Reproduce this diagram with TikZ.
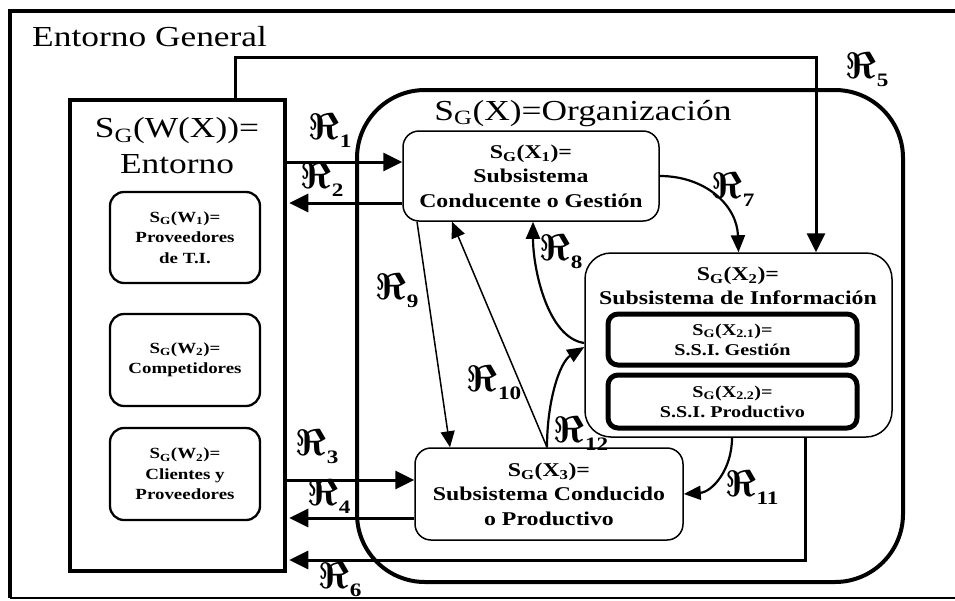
\RequirePackage{fix-cm}
\documentclass[tikz,border=0pt]{standalone}
\usepackage{amsmath}
\usepackage{fontspec}
\setmainfont{Liberation Serif}[FakeStretch=1.22]
\usetikzlibrary{arrows.meta}
\newcommand\bigfnt{\fontsize{29}{36}\selectfont}
\newcommand\boxfnt{\fontsize{19.5}{24.5}\selectfont\bfseries}
\newcommand\wfnt{\fontsize{15.5}{20.5}\selectfont\bfseries}
\newcommand\ssifnt{\fontsize{16.5}{20}\selectfont\bfseries}
\newcommand\lblfnt{\fontsize{37}{37}\selectfont}
\newcommand\sgx{S\textsubscript{G}}
\newcommand\rlab[1]{$\boldsymbol{\Re}$\kern0.5pt\raisebox{-8pt}{\fontsize{19}{19}\selectfont\bfseries #1}}
\begin{document}
\begin{tikzpicture}[x=1pt,y=-1pt,
  entbox/.style={draw, line width=4.5pt, inner sep=0pt},
  orgbox/.style={draw, line width=4pt, rounded corners=68pt, inner sep=0pt},
  wbox/.style={draw, line width=2.3pt, rounded corners=14pt, align=center, font=\wfnt, inner sep=2pt},
  sbox/.style={draw, line width=1.5pt, rounded corners=16pt, align=center, font=\boxfnt, inner sep=2pt},
  ibox/.style={draw, line width=5pt, rounded corners=10pt, align=center, font=\ssifnt, inner sep=1pt},
  arr/.style={-{Triangle[length=19pt,width=18pt]}, line width=3pt},
  carr/.style={-{Triangle[length=17pt,width=14pt]}, line width=2.2pt},
  tarr/.style={-{Triangle[length=16pt,width=14pt]}, line width=1.5pt},
  lbl/.style={font=\lblfnt, inner sep=0pt}
]
\useasboundingbox (0,0) rectangle (955,600);
% outer frame
\draw[line width=4pt] (955,11) -- (10,11) -- (10,598);
\draw[line width=1.5pt] (10,598) -- (955,598);
\node[anchor=base west, font=\bigfnt, inner sep=0pt] (gentitle) at (32,46) {Entorno General};

% Entorno
\node[entbox, minimum width=215pt, minimum height=471pt] (ent) at (177.5,335.5) {};
\node[align=center, font=\bigfnt, inner sep=0pt] (enttitle) at (177,146) {\sgx(W(X))=\\Entorno};
\node[wbox, minimum width=150pt, minimum height=91pt] (wone) at (185,237.5) {\sgx(W\textsubscript{1})=\\Proveedores\\de T.I.};
\node[wbox, minimum width=150pt, minimum height=92pt] (wtwo) at (185,360) {\sgx(W\textsubscript{2})=\\Competidores};
\node[wbox, minimum width=150pt, minimum height=92pt] (wthree) at (185,474) {\sgx(W\textsubscript{2})=\\Clientes y\\Proveedores};

% Organizacion
\node[orgbox, minimum width=546pt, minimum height=492pt] (org) at (630,336) {};
\node[anchor=base, font=\bigfnt, inner sep=0pt] (orgtitle) at (583,120) {\sgx(X)=Organización};

\node[sbox, minimum width=256pt, minimum height=90pt] (xone) at (531,176) {\sgx(X\textsubscript{1})=\\Subsistema\\Conducente o Gestión};
\node[sbox, rounded corners=26pt, minimum width=307pt, minimum height=184pt] (xtwo) at (738.5,345) {};
\node[align=center, font=\boxfnt, inner sep=0pt] (xtwotitle) at (738,286) {\sgx(X\textsubscript{2})=\\Subsistema de Información};
\node[ibox, minimum width=249pt, minimum height=51pt] (xtwoone) at (732.5,339.5) {\sgx(X\textsubscript{2.1})=\\S.S.I. Gestión};
\node[ibox, minimum width=249pt, minimum height=53pt] (xtwotwo) at (732.5,401.5) {\sgx(X\textsubscript{2.2})=\\S.S.I. Productivo};
\node[sbox, minimum width=268pt, minimum height=92pt] (xthree) at (549,494) {\sgx(X\textsubscript{3})=\\Subsistema Conducido\\o Productivo};

% connectors
\coordinate (r1e) at ([yshift=14pt]xone.west);
\draw[arr] (ent.east |- r1e) -- (r1e);
\coordinate (r2s) at ([yshift=-27pt]xone.west);
\draw[arr, shorten >=2pt] (r2s) -- (ent.east |- r2s);
\coordinate (r3e) at ([yshift=14pt]xthree.west);
\draw[arr] (ent.east |- r3e) -- (r3e);
\coordinate (r4s) at ([yshift=-24pt]xthree.west);
\draw[arr, shorten >=2pt] (r4s) -- (ent.east |- r4s);
\coordinate (r5s) at ([xshift=57.5pt]ent.north);
\coordinate (r5e) at ([xshift=77.5pt]xtwo.north);
\draw[arr] (r5s) -- ++(0,-40) -| (r5e);
\coordinate (r6s) at ([xshift=66.5pt]xtwo.south);
\coordinate (r6e) at ([yshift=-224.5pt]ent.east);
\draw[arr, shorten >=2pt] (r6s) |- (r6e);

\draw[carr] (xone.east) .. controls (705,176) and (737,205) .. (xtwo.north);
\draw[carr] ([yshift=2pt]xtwo.west) .. controls (548,338) and (533,270) .. ([xshift=2pt]xone.south);
\coordinate (r12s) at ([xshift=-2pt]xthree.north);
\draw[carr] (r12s) .. controls (547,400) and (560,362) .. ([yshift=-2pt]xtwo.west);
\draw[tarr] (r12s) -- ([xshift=-79pt]xone.south);
\draw[tarr] ([xshift=-114pt]xone.south) -- ([xshift=-99pt]xthree.north);
\draw[carr] ([xshift=-6.5pt]xtwo.south) .. controls (732,470) and (712,492) .. (xthree.east);

% labels
\node[lbl] (l1) at (330,131) {\rlab{1}};
\node[lbl] (l2) at (322,180) {\rlab{2}};
\node[lbl] (l3) at (317,447) {\rlab{3}};
\node[lbl] (l4) at (329,497) {\rlab{4}};
\node[lbl] (l5) at (867,70) {\rlab{5}};
\node[lbl] (l6) at (340,580) {\rlab{6}};
\node[lbl] (l7) at (733,190) {\rlab{7}};
\node[lbl] (l8) at (561,252) {\rlab{8}};
\node[lbl] (l9) at (397,291) {\rlab{9}};
\node[lbl] (l10) at (494,383) {\rlab{10}};
\node[lbl] (l11) at (752,488) {\rlab{11}};
\node[lbl] (l12) at (581,434) {\rlab{12}};
\end{tikzpicture}
\end{document}
